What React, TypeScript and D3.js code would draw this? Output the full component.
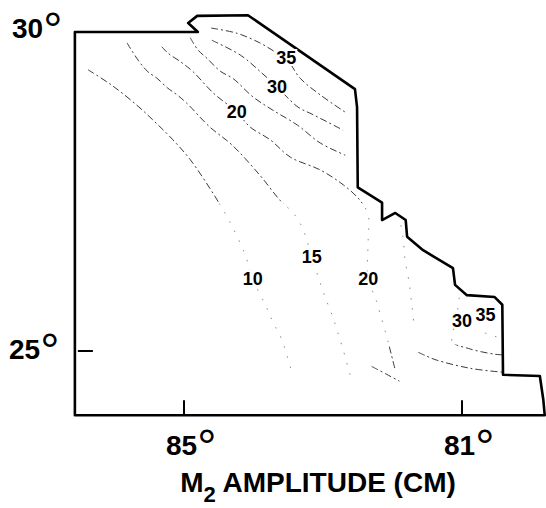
import React from 'react';
import * as d3 from 'd3';

// Axis ticks (degrees W longitude, degrees N latitude)
const lonTicks = [85, 81];
const latTicks = [30, 25];

// Model domain outline: open boundary on west/south, coastline on the east
const boundary: [number, number][] = [
  [86.57, 24.0], [86.57, 29.97], [84.8, 29.97], [84.94, 30.11], [84.81, 30.22],
  [84.08, 30.23], [82.54, 29.08], [82.51, 28.8], [82.5, 27.55], [82.15, 27.31],
  [82.15, 27.04], [81.96, 27.15], [81.81, 27.04], [81.79, 26.78], [81.56, 26.57],
  [81.13, 26.29], [81.1, 26.03], [80.93, 25.87], [80.53, 25.84], [80.42, 25.72],
  [80.41, 24.63], [79.88, 24.61], [79.83, 24.24], [79.81, 24.0],
];

// Co-amplitude lines (cm)
const contour10: [number, number][] = [
  [86.38, 29.38], [86.04, 29.14], [85.68, 28.83], [85.42, 28.57], [85.16, 28.29],
  [84.91, 27.98], [84.55, 27.4], [84.34, 27.01], [84.12, 26.5], [84.01, 26.12],
  [83.83, 25.72], [83.72, 25.45], [83.59, 25.17], [83.45, 24.67],
];
const contour15: [number, number][] = [
  [85.82, 29.8], [85.66, 29.53], [85.52, 29.35], [85.39, 29.25], [85.24, 29.1],
  [85.1, 28.99], [84.96, 28.86], [84.63, 28.49], [84.31, 28.21], [83.91, 27.74],
  [83.62, 27.35], [83.43, 27.15], [83.3, 26.93], [83.22, 26.68], [83.16, 26.46],
  [83.1, 26.26], [82.99, 25.9], [82.86, 25.53], [82.73, 25.09], [82.61, 24.63],
];
const contour20: [number, number][] = [
  [85.32, 29.74], [85.23, 29.64], [85.03, 29.49], [84.87, 29.35], [84.58, 29.02],
  [84.24, 28.72], [84.05, 28.49], [83.76, 28.29], [83.47, 28.02], [83.04, 27.82],
  [82.71, 27.59], [82.47, 27.35], [82.35, 27.12], [82.35, 26.73], [82.35, 26.12],
  [82.25, 25.84], [82.21, 25.7], [82.09, 25.25], [81.96, 24.7],
];
const contour25: [number, number][] = [
  [84.91, 29.88], [84.8, 29.69], [84.67, 29.56], [84.48, 29.36], [84.29, 29.24],
  [84.01, 28.96], [83.72, 28.75], [83.37, 28.52], [83.04, 28.24], [82.68, 28.05],
];
const contour30: [number, number][] = [
  [84.6, 29.84], [84.19, 29.61], [83.88, 29.33], [83.66, 29.11], [83.36, 28.8],
  [83.14, 28.68], [82.71, 28.44],
];
const contour35: [number, number][] = [
  [84.61, 30.03], [84.24, 29.95], [83.91, 29.8], [83.66, 29.64], [83.53, 29.56],
  [83.33, 29.25], [83.04, 28.99], [82.68, 28.72],
];
// Lines near the southern tip of the peninsula
const contour25South: [number, number][] = [
  [81.91, 27.12], [81.85, 26.78], [81.82, 26.43], [81.76, 26.06], [81.72, 25.7],
  [81.69, 25.38],
];
const contour30South: [number, number][] = [
  [81.04, 25.83], [81.08, 25.5], [81.14, 25.15], [80.91, 25.04], [80.53, 24.95],
  [80.41, 24.94],
];
const contour35South: [number, number][] = [
  [80.67, 25.28], [80.5, 25.22], [80.41, 25.2],
];
const contour25Arc: [number, number][] = [
  [81.63, 24.98], [81.53, 24.93], [81.37, 24.86], [80.88, 24.73], [80.42, 24.67],
];
const contour20South: [number, number][] = [
  [82.3, 24.76], [82.09, 24.64], [81.9, 24.53],
];

const contourPaths = [
  contour10, contour15, contour20, contour25, contour30, contour35,
  contour25South, contour30South, contour35South, contour25Arc, contour20South,
];

// Line labels
const labelText = ['35', '30', '20', '10', '15', '20', '30', '35'];
const labelLon = [83.53, 83.66, 84.24, 84.01, 83.16, 82.35, 81.0, 80.66];
const labelLat = [29.56, 29.11, 28.72, 26.12, 26.46, 26.12, 25.47, 25.56];

const W = 546;
const H = 508;
const FONT = '"Liberation Sans", Arial, sans-serif';

export default function App() {
  const x = d3.scaleLinear().domain([85, 81]).range([184, 462]);
  const y = d3.scaleLinear().domain([25, 30]).range([351, 30]);
  const line = d3
    .line<[number, number]>()
    .x((d) => x(d[0]))
    .y((d) => y(d[1]))
    .curve(d3.curveCatmullRom.alpha(0.5));
  const outline = d3
    .line<[number, number]>()
    .x((d) => x(d[0]))
    .y((d) => y(d[1]));

  const bottomY = y(24.0);
  const leftX = x(86.57);

  // darker dashed strokes in the north and the far south-east, faint dots between
  const yNorth = y(27.3);
  const ySouth = y(25.1);
  const xSouth = x(82.45);

  // large raised ring used as the degree mark
  const degree = (
    <tspan fontSize={48} fontWeight="normal" dx={0} dy={8}>°</tspan>
  );

  return (
    <svg
      width={W}
      height={H}
      style={{ position: 'absolute', left: 0, top: 0, background: '#fff' }}
    >
      <defs>
        <clipPath id="dense">
          <rect x={0} y={0} width={W} height={yNorth} />
          <rect x={xSouth} y={ySouth} width={W - xSouth} height={H - ySouth} />
        </clipPath>
        <clipPath id="sparse">
          <rect x={0} y={yNorth} width={xSouth} height={H - yNorth} />
          <rect x={xSouth} y={yNorth} width={W - xSouth} height={ySouth - yNorth} />
        </clipPath>
      </defs>

      <g clipPath="url(#dense)" fill="none" stroke="#3a3a3a" strokeWidth={1}>
        {contourPaths.map((c, i) => (
          <path key={i} d={line(c) ?? ''} strokeDasharray="7 3 2 3" />
        ))}
      </g>
      <g clipPath="url(#sparse)" fill="none" stroke="#8a8a8a" strokeWidth={1}>
        {contourPaths.map((c, i) => (
          <path key={i} d={line(c) ?? ''} strokeDasharray="1.5 9" />
        ))}
      </g>

      <path
        d={(outline(boundary) ?? '') + 'Z'}
        fill="none"
        stroke="#000"
        strokeWidth={2.6}
        strokeLinejoin="round"
      />

      {lonTicks.map((t) => (
        <g key={t}>
          <line x1={x(t)} x2={x(t)} y1={bottomY} y2={bottomY - 15} stroke="#000" strokeWidth={2} />
          <text
            x={x(t) - 18}
            y={bottomY + 40}
            textAnchor="start"
            fontFamily={FONT}
            fontWeight="bold"
            fontSize={28}
          >
            {t}
            {degree}
          </text>
        </g>
      ))}

      {latTicks.map((t) => (
        <g key={t}>
          {t === 25 && (
            <line x1={leftX + 3} x2={leftX + 18} y1={y(t)} y2={y(t)} stroke="#000" strokeWidth={2} />
          )}
          <text
            x={t === 30 ? 12 : 9}
            y={y(t) + 8}
            textAnchor="start"
            fontFamily={FONT}
            fontWeight="bold"
            fontSize={28}
          >
            {t}
            {degree}
          </text>
        </g>
      ))}

      {labelText.map((s, i) => (
        <text
          key={i}
          x={x(labelLon[i])}
          y={y(labelLat[i]) + 6}
          textAnchor="middle"
          fontFamily={FONT}
          fontWeight="bold"
          fontSize={18}
          stroke="#fff"
          strokeWidth={4}
          paintOrder="stroke"
        >
          {s}
        </text>
      ))}

      <text x={318} y={492} textAnchor="middle" fontFamily={FONT} fontWeight="bold" fontSize={28}>
        M<tspan fontSize={22} dy={10}>2</tspan>
        <tspan dy={-10}> AMPLITUDE (CM)</tspan>
      </text>
    </svg>
  );
}
